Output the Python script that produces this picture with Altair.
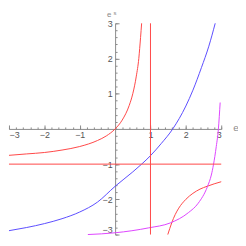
import altair as alt
import pandas as pd

# ---- data ----
red_left_e = [-3.0, -2.5, -2.0, -1.5, -1.0, -0.5, -0.25, 0.0, 0.2, 0.4, 0.5, 0.6, 0.67, 0.72, 0.75]
red_left_ep = [-0.75, -0.71, -0.67, -0.6, -0.5, -0.33, -0.2, 0.0, 0.25, 0.67, 1.0, 1.5, 2.0, 2.6, 3.0]

red_right_e = [1.49, 1.6, 1.7, 1.8, 2.0, 2.2, 2.4, 2.6, 2.8, 3.0]
red_right_ep = [-3.0, -2.67, -2.43, -2.25, -2.0, -1.83, -1.71, -1.63, -1.56, -1.5]

blue_e = [-3.0, -2.5, -2.0, -1.5, -1.0, -0.5, 0.0, 0.5, 0.75, 1.0, 1.3, 1.63, 2.0, 2.2, 2.44, 2.65, 2.83]
blue_ep = [-2.89, -2.80, -2.69, -2.55, -2.36, -2.08, -1.63, -1.22, -1.0, -0.76, -0.42, 0.0, 0.65, 1.1, 1.74, 2.35, 3.0]

mag_e = [-0.77, 0.0, 0.95, 1.56, 2.07, 2.35, 2.61, 2.72, 2.78, 2.86, 2.92, 2.97]
mag_ep = [-3.0, -2.95, -2.81, -2.67, -2.38, -2.11, -1.64, -1.31, -1.02, -0.5, 0.0, 0.75]

vline_e = 1.0
hline_ep = -1.0

major_ticks = [-3, -2, -1, 1, 2, 3]
minor_ticks = [round(-3 + 0.2 * i, 1) for i in range(31)]

series_names = ["red_left", "red_right", "blue", "magenta"]
series_colors = ["#ff4646", "#ff4646", "#5a4cff", "#dd44ff"]

rows = []
for name, es, eps in [("red_left", red_left_e, red_left_ep),
                      ("red_right", red_right_e, red_right_ep),
                      ("blue", blue_e, blue_ep),
                      ("magenta", mag_e, mag_ep)]:
    for i, (a, b) in enumerate(zip(es, eps)):
        rows.append({"series": name, "e": a, "ep": b, "i": i})
df = pd.DataFrame(rows)

W, H = 215, 214
XOFF = -W / 2.0   # y axes sit at e = 0
YOFF = -H / 2.0   # x axes sit at e' = 0
GRAY = "#8a8a8a"
LBL = "#555555"
FONT = "Liberation Sans"

xs = alt.Scale(domain=[-3, 3], nice=False, zero=False)
ys = alt.Scale(domain=[-3, 3], nice=False, zero=False)

common = dict(grid=False, title=None)

x_minor = alt.Axis(orient="top", offset=YOFF, values=minor_ticks, tickSize=2, labels=False,
                   domain=False, tickColor=GRAY, tickWidth=1, **common)
y_minor = alt.Axis(orient="right", offset=XOFF, values=minor_ticks, tickSize=2, labels=False,
                   domain=False, tickColor=GRAY, tickWidth=1, **common)
x_major = alt.Axis(orient="top", offset=YOFF, values=major_ticks, tickSize=4, labels=False,
                   domain=False, tickColor=GRAY, tickWidth=1, **common)
y_major = alt.Axis(orient="right", offset=XOFF, values=major_ticks, tickSize=4, labels=False,
                   domain=False, tickColor=GRAY, tickWidth=1, **common)
x_lab = alt.Axis(orient="bottom", offset=YOFF, values=major_ticks, ticks=False, domain=True,
                 domainColor=GRAY, domainWidth=1, labelPadding=2, labelFontSize=9,
                 labelColor=LBL, labelFont=FONT, format="d", **common)
y_lab = alt.Axis(orient="left", offset=XOFF, values=major_ticks, ticks=False, domain=True,
                 domainColor=GRAY, domainWidth=1, labelPadding=3, labelFontSize=9,
                 labelColor=LBL, labelFont=FONT, format="d",
                 labelBaseline={"condition": {"test": "datum.value == -3", "value": "bottom"},
                                "value": "middle"},
                 **common)

curves = alt.Chart(df).mark_line(strokeWidth=1, interpolate="monotone").encode(
    x=alt.X("e:Q", scale=xs, axis=x_minor),
    y=alt.Y("ep:Q", scale=ys, axis=y_minor),
    color=alt.Color("series:N", scale=alt.Scale(domain=series_names, range=series_colors), legend=None),
    order="i:Q",
)

hline = alt.Chart().mark_rule(color="#ff4646", strokeWidth=1).encode(
    x=alt.X(datum=-3, type="quantitative", scale=xs, axis=x_major),
    x2=alt.X2(datum=3),
    y=alt.Y(datum=hline_ep, type="quantitative", scale=ys, axis=y_major),
)

vline = alt.Chart().mark_rule(color="#ff4646", strokeWidth=1).encode(
    x=alt.X(datum=vline_e, type="quantitative", scale=xs, axis=x_lab),
    y=alt.Y(datum=-3, type="quantitative", scale=ys, axis=y_lab),
    y2=alt.Y2(datum=3),
)

xlabel = alt.Chart().mark_text(text="e", fontSize=10, font=FONT, color=GRAY, dx=15, dy=-1,
                               align="center", baseline="middle").encode(
    x=alt.X(datum=3, type="quantitative", scale=xs, axis=None),
    y=alt.Y(datum=0, type="quantitative", scale=ys, axis=None),
)
ylabel = alt.Chart().mark_text(text="e", fontSize=8, font=FONT, color=GRAY, dx=-6, dy=-6.5,
                               align="center", baseline="alphabetic").encode(
    x=alt.X(datum=0, type="quantitative", scale=xs, axis=None),
    y=alt.Y(datum=3, type="quantitative", scale=ys, axis=None),
)
ysup = alt.Chart().mark_text(text="s", fontSize=6, font=FONT, color=GRAY, dx=-1.5, dy=-8.5,
                             align="left", baseline="alphabetic").encode(
    x=alt.X(datum=0, type="quantitative", scale=xs, axis=None),
    y=alt.Y(datum=3, type="quantitative", scale=ys, axis=None),
)

chart = alt.layer(curves, hline, vline, xlabel, ylabel, ysup).resolve_axis(
    x="independent", y="independent"
).properties(
    width=W, height=H,
    padding={"left": 1, "top": 14, "right": 17, "bottom": 2},
    autosize=alt.AutoSizeParams(type="none"),
    background="white",
).configure_view(stroke=None)

chart.save("out.html", embed_options={"renderer": "svg", "actions": False})
